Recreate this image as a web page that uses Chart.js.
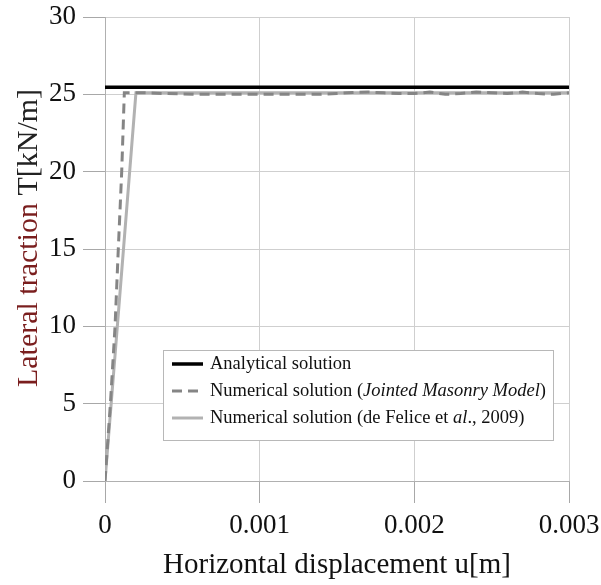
<!DOCTYPE html>
<html>
<head>
<meta charset="utf-8">
<script src="https://cdn.jsdelivr.net/npm/chart.js@4.4.1/dist/chart.umd.min.js"></script>
<style>
  html, body { margin: 0; padding: 0; background: #ffffff; }
  #wrap { position: relative; width: 601px; height: 585px; }
</style>
</head>
<body>
<div id="wrap"><canvas id="grafico" width="601" height="585"></canvas></div>
<script>
// Datos
const xTicks = [0, 0.001, 0.002, 0.003];
const yTicks = [0, 5, 10, 15, 20, 25, 30];

const analyticalX = [0, 0.003];
const analyticalY = [25.45, 25.45];

const jointedX = [0, 0.000035, 0.000065, 0.000086, 0.000108, 0.000125, 0.00016, 0.00025, 0.0004, 0.0006, 0.0008, 0.001, 0.0012, 0.0014, 0.0015, 0.0016, 0.0017, 0.0018, 0.0019, 0.002, 0.0021, 0.0022, 0.0023, 0.0024, 0.0025, 0.0026, 0.0027, 0.0028, 0.0029, 0.003];
const jointedY = [0, 5, 10, 15, 20, 25.1, 25.1, 25.1, 25.05, 25.0, 25.0, 25.0, 25.0, 25.0, 25.05, 25.12, 25.15, 25.1, 25.05, 25.05, 25.15, 25.0, 25.05, 25.15, 25.1, 25.05, 25.15, 25.05, 25.0, 25.1];

const felX = [0, 0.0002, 0.003];
const felY = [0, 25.1, 25.1];

const etiquetas = [
    'Analytical solution',
    'Numerical solution (Jointed Masonry Model)',
    'Numerical solution (de Felice et al., 2009)'
];

function puntos(xs, ys) {
    return xs.map((x, i) => ({ x: x, y: ys[i] }));
}

const fuente = '"Liberation Serif", "Times New Roman", serif';

// Título del eje Y en dos colores
const tituloY = {
    id: 'tituloY',
    afterDraw(chart) {
        const ctx = chart.ctx;
        ctx.save();
        ctx.translate(29, 238);
        ctx.rotate(-Math.PI / 2);
        ctx.font = '30px ' + fuente;
        ctx.textBaseline = 'middle';
        const a = 'Lateral traction ';
        const b = 'T[kN/m]';
        const wa = ctx.measureText(a).width;
        const wb = ctx.measureText(b).width;
        let x = -(wa + wb) / 2;
        ctx.fillStyle = '#7a1e1e';
        ctx.textAlign = 'left';
        ctx.fillText(a, x, 0);
        ctx.fillStyle = '#222222';
        ctx.fillText(b, x + wa, 0);
        ctx.restore();
    }
};

// Leyenda dentro del área del gráfico
const leyenda = {
    id: 'leyenda',
    afterDraw(chart) {
        const ctx = chart.ctx;
        const box = { x: 163, y: 350, w: 390, h: 90 };
        ctx.save();
        ctx.fillStyle = '#ffffff';
        ctx.fillRect(box.x, box.y, box.w, box.h);
        ctx.strokeStyle = '#b8b8b8';
        ctx.lineWidth = 1;
        ctx.strokeRect(box.x + 0.5, box.y + 0.5, box.w, box.h);
        const filas = [364, 391, 418];
        chart.data.datasets.forEach((ds, i) => {
            const y = filas[i];
            ctx.beginPath();
            ctx.strokeStyle = ds.borderColor;
            ctx.lineWidth = ds.borderWidth;
            ctx.setLineDash(ds.borderDash || []);
            ctx.moveTo(172, y);
            ctx.lineTo(203, y);
            ctx.stroke();
            ctx.setLineDash([]);
            ctx.fillStyle = '#111111';
            ctx.textBaseline = 'middle';
            ctx.textAlign = 'left';
            let x = 210;
            const normal = '18.5px ' + fuente;
            const cursiva = 'italic 18.5px ' + fuente;
            let partes;
            if (i === 0) partes = [[etiquetas[0], normal]];
            else if (i === 1) partes = [['Numerical solution (', normal], ['Jointed Masonry Model', cursiva], [')', normal]];
            else partes = [['Numerical solution (de Felice et ', normal], ['al', cursiva], ['., 2009)', normal]];
            partes.forEach(p => {
                ctx.font = p[1];
                ctx.fillText(p[0], x, y);
                x += ctx.measureText(p[0]).width;
            });
        });
        ctx.restore();
    }
};

new Chart(document.getElementById('grafico'), {
    type: 'scatter',
    data: {
        datasets: [{
            label: etiquetas[0],
            data: puntos(analyticalX, analyticalY),
            showLine: true,
            borderColor: '#000000',
            borderWidth: 3.5,
            pointRadius: 0
        }, {
            label: etiquetas[1],
            data: puntos(jointedX, jointedY),
            showLine: true,
            borderColor: '#858585',
            borderWidth: 3,
            borderDash: [10, 6],
            pointRadius: 0
        }, {
            label: etiquetas[2],
            data: puntos(felX, felY),
            showLine: true,
            borderColor: '#b2b2b2',
            borderWidth: 3,
            pointRadius: 0
        }]
    },
    options: {
        responsive: false,
        animation: false,
        layout: { padding: { left: 0, right: 32, top: 17, bottom: 0 } },
        plugins: {
            legend: { display: false },
            tooltip: { enabled: false }
        },
        scales: {
            x: {
                type: 'linear',
                min: 0,
                max: 0.003,
                afterBuildTicks: axis => { axis.ticks = xTicks.map(v => ({ value: v })); },
                afterFit: axis => {
                    axis.height = 104;
                    axis.paddingLeft = 0;
                    axis.paddingRight = 0;
                },
                ticks: {
                    color: '#111111',
                    font: { family: fuente, size: 27 },
                    padding: 7,
                    maxRotation: 0,
                    callback: v => String(v)
                },
                grid: { color: '#cfcfcf', tickColor: '#a8a8a8', tickLength: 22 },
                border: { color: '#b0b0b0' },
                title: {
                    display: true,
                    text: 'Horizontal displacement u[m]',
                    color: '#111111',
                    font: { family: fuente, size: 29 },
                    padding: { top: 0, bottom: 2 }
                }
            },
            y: {
                min: 0,
                max: 30,
                afterBuildTicks: axis => { axis.ticks = yTicks.map(v => ({ value: v })); },
                afterFit: axis => {
                    axis.width = 105;
                    axis.paddingTop = 0;
                    axis.paddingBottom = 0;
                },
                ticks: {
                    color: '#111111',
                    font: { family: fuente, size: 27 },
                    padding: 7
                },
                grid: { color: '#cfcfcf', tickColor: '#a8a8a8', tickLength: 22 },
                border: { color: '#b0b0b0' }
            }
        }
    },
    plugins: [tituloY, leyenda]
});
</script>
</body>
</html>
